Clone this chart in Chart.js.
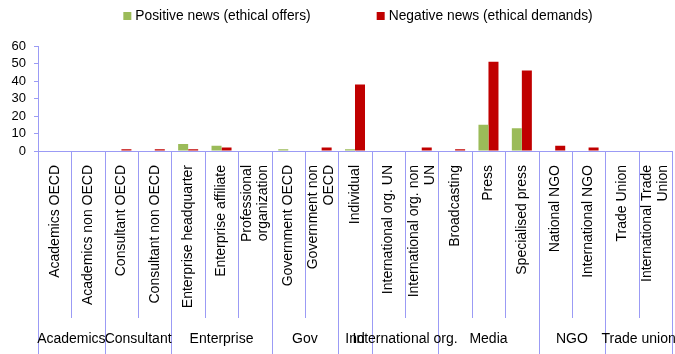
<!DOCTYPE html>
<html><head><meta charset="utf-8">
<style>html,body{margin:0;padding:0;background:#fff;} canvas{display:block;}</style>
<script src="https://cdn.jsdelivr.net/npm/chart.js@4.4.1/dist/chart.umd.min.js"></script>
</head><body>
<canvas id="c" width="675" height="354"></canvas>
<script>
const categories = [
  'Academics OECD', 'Academics non OECD', 'Consultant OECD', 'Consultant non OECD',
  'Enterprise headquarter', 'Enterprise affiliate', ['Professional', 'organization'],
  'Government OECD', ['Government non', 'OECD'], 'Individual',
  'International org. UN', ['International org. non', 'UN'],
  'Broadcasting', 'Press', 'Specialised press',
  'National NGO', 'International NGO', 'Trade Union', ['International Trade', 'Union']
];
const groupLabels = ['Academics', 'Consultant', 'Enterprise', 'Gov', 'Ind', 'International org.', 'Media', 'NGO', 'Trade union'];
const groupSizes = [2, 2, 3, 2, 1, 2, 3, 2, 2];
const seriesLabels = ['Positive news (ethical offers)', 'Negative news (ethical demands)'];
const positiveNews = [0, 0, 0, 0, 4, 3, 0, 1, 0, 1, 0, 0, 0, 15, 13, 0, 0, 0, 0];
const negativeNews = [0, 0, 1, 1, 1, 2, 0, 0, 2, 38, 0, 2, 1, 51, 46, 3, 2, 0, 0];
const yTicks = [0, 10, 20, 30, 40, 50, 60];

const FONT = "'Liberation Sans', Arial, sans-serif";
const AXIS = '#9b9bf5';
const GREEN = '#9bbb59';
const RED = '#c00000';

const decor = {
  id: 'decor',
  afterDraw(chart) {
    const ctx = chart.ctx;
    const xs = chart.scales.x;
    const area = chart.chartArea;
    const n = categories.length;
    const half = (xs.getPixelForValue(1) - xs.getPixelForValue(0)) / 2;
    const edge = b => b < n ? xs.getPixelForValue(b) - half : xs.getPixelForValue(n - 1) + half;
    const gb = new Set([0]);
    let acc = 0;
    groupSizes.forEach(s => { acc += s; gb.add(acc); });
    ctx.save();
    ctx.strokeStyle = AXIS;
    ctx.lineWidth = 1;
    for (let b = 0; b <= n; b++) {
      const x = Math.round(edge(b)) + 0.5;
      ctx.beginPath();
      ctx.moveTo(x, area.bottom);
      ctx.lineTo(x, gb.has(b) ? chart.height : 318);
      ctx.stroke();
    }
    // category labels (rotated)
    ctx.fillStyle = '#000';
    ctx.font = '14px ' + FONT;
    ctx.textBaseline = 'middle';
    ctx.textAlign = 'right';
    const lh = 16;
    categories.forEach((lab, i) => {
      const lines = Array.isArray(lab) ? lab : [lab];
      const cx = xs.getPixelForValue(i);
      lines.forEach((ln, j) => {
        const off = (j - (lines.length - 1) / 2) * lh;
        ctx.save();
        ctx.translate(cx + off, area.bottom + 14);
        ctx.rotate(-Math.PI / 2);
        ctx.fillText(ln, 0, 0);
        ctx.restore();
      });
    });
    // group labels
    ctx.font = '14px ' + FONT;
    ctx.textAlign = 'center';
    let start = 0;
    groupSizes.forEach((s, g) => {
      const cx = (edge(start) + edge(start + s)) / 2;
      ctx.fillText(groupLabels[g], cx, 339);
      start += s;
    });
    // legend
    const colors = [GREEN, RED];
    ctx.font = '13.8px ' + FONT;
    ctx.textAlign = 'left';
    const box = 8, gap = 4, itemGap = 66;
    const widths = seriesLabels.map(t => box + gap + ctx.measureText(t).width);
    const total = widths[0] + itemGap + widths[1];
    let x = (area.left + area.right) / 2 + 3 - total / 2;
    const ly = 16;
    seriesLabels.forEach((t, i) => {
      ctx.fillStyle = colors[i];
      ctx.fillRect(x, ly - 4, box, box);
      ctx.fillStyle = '#000';
      ctx.fillText(t, x + box + gap, ly);
      x += widths[i] + itemGap;
    });
    ctx.restore();
  }
};

new Chart(document.getElementById('c'), {
  type: 'bar',
  data: {
    labels: categories,
    datasets: [
      { label: seriesLabels[0], data: positiveNews, backgroundColor: GREEN, borderWidth: 0 },
      { label: seriesLabels[1], data: negativeNews, backgroundColor: RED, borderWidth: 0 }
    ]
  },
  options: {
    responsive: false,
    animation: false,
    devicePixelRatio: 1,
    layout: { padding: { top: 46, right: 3, left: 0, bottom: 0 } },
    plugins: { legend: { display: false }, tooltip: { enabled: false } },
    datasets: { bar: { categoryPercentage: 0.6, barPercentage: 1.0 } },
    scales: {
      x: {
        grid: { display: false },
        ticks: { display: false },
        border: { display: true, color: AXIS, width: 1 },
        afterFit(s) { s.height = 203; }
      },
      y: {
        min: 0, max: 60,
        afterBuildTicks(s) { s.ticks = yTicks.map(v => ({ value: v })); },
        ticks: { autoSkip: false, stepSize: 10, color: '#000', font: { size: 13, family: FONT }, padding: 8 },
        grid: { drawOnChartArea: false, drawTicks: true, tickLength: 4, color: AXIS },
        border: { display: true, color: AXIS, width: 1 },
        afterFit(s) { s.width = 38; }
      }
    }
  },
  plugins: [decor]
});
</script>
</body></html>
